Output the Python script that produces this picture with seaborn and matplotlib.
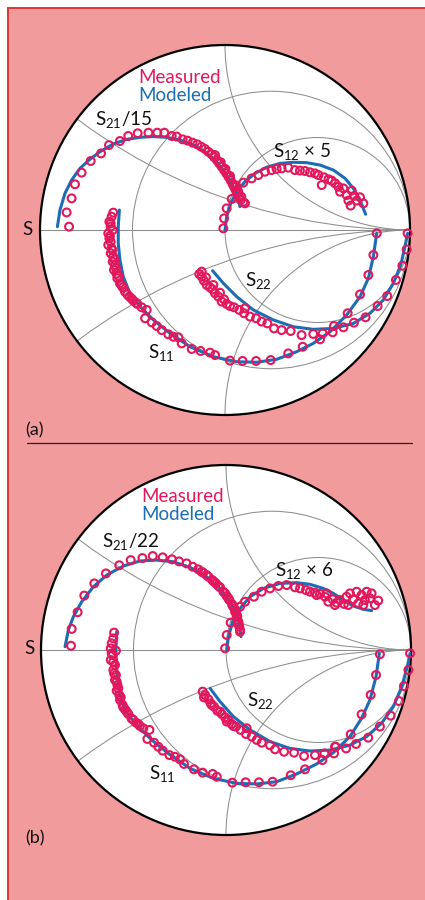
import matplotlib
matplotlib.use('Agg')
import matplotlib.pyplot as plt
import seaborn as sns
from matplotlib.patches import Circle, Rectangle
from matplotlib.lines import Line2D

sns.set_theme(style='white')
plt.rcParams['font.family'] = ['Lato', 'DejaVu Sans']
plt.rcParams['mathtext.fontset'] = 'custom'
plt.rcParams['mathtext.rm'] = 'Lato'
plt.rcParams['mathtext.it'] = 'Lato:italic'
plt.rcParams['mathtext.bf'] = 'Lato:bold'

# ---------------- data (reflection coefficient, re/im) ----------------
# Panel (a)
A_S21_MEAS = [(-0.843, 0.018), (-0.856, 0.095), (-0.829, 0.171), (-0.811, 0.247), (-0.775, 0.310),
              (-0.726, 0.373), (-0.670, 0.414), (-0.627, 0.459), (-0.568, 0.481), (-0.523, 0.508),
              (-0.472, 0.523), (-0.414, 0.526), (-0.366, 0.526), (-0.328, 0.526), (-0.288, 0.508),
              (-0.261, 0.505), (-0.229, 0.490), (-0.202, 0.483), (-0.175, 0.472), (-0.150, 0.463),
              (-0.128, 0.450), (-0.108, 0.438), (-0.090, 0.423), (-0.072, 0.409), (-0.058, 0.393),
              (-0.043, 0.377), (-0.031, 0.360), (-0.018, 0.342), (-0.005, 0.324), (0.007, 0.306),
              (0.020, 0.286), (0.031, 0.268), (0.041, 0.249), (0.050, 0.231), (0.059, 0.213),
              (0.067, 0.195), (0.076, 0.177), (0.085, 0.162), (0.099, 0.150), (-0.054, 0.405),
              (-0.023, 0.366), (0.002, 0.330), (0.027, 0.292), (0.054, 0.243), (0.072, 0.207),
              (0.088, 0.180), (0.108, 0.144)]
A_S21_MODEL = [(-0.906, 0.018), (-0.892, 0.108), (-0.865, 0.198), (-0.829, 0.270), (-0.784, 0.333),
               (-0.730, 0.382), (-0.676, 0.423), (-0.604, 0.465), (-0.532, 0.490), (-0.459, 0.501),
               (-0.387, 0.505), (-0.315, 0.501), (-0.243, 0.486), (-0.171, 0.459), (-0.108, 0.423),
               (-0.054, 0.378), (-0.009, 0.324), (0.027, 0.270), (0.054, 0.216), (0.072, 0.171),
               (0.081, 0.126)]
A_S12_MEAS = [(-0.009, 0.009), (-0.005, 0.063), (0.009, 0.117), (0.036, 0.168), (0.099, 0.256),
              (0.144, 0.279), (0.180, 0.297), (0.216, 0.315), (0.252, 0.324), (0.279, 0.330),
              (0.306, 0.333), (0.342, 0.337), (0.378, 0.324), (0.405, 0.321), (0.432, 0.319),
              (0.459, 0.312), (0.486, 0.306), (0.505, 0.297), (0.523, 0.243), (0.535, 0.285),
              (0.559, 0.274), (0.577, 0.267), (0.595, 0.252), (0.613, 0.234), (0.622, 0.207),
              (0.640, 0.225), (0.658, 0.189), (0.667, 0.159), (0.685, 0.213), (0.697, 0.184),
              (0.712, 0.159), (0.730, 0.177), (0.748, 0.144), (0.679, 0.132)]
A_S12_MODEL = [(0.000, 0.000), (0.009, 0.072), (0.031, 0.144), (0.063, 0.207), (0.108, 0.261),
               (0.162, 0.306), (0.225, 0.339), (0.297, 0.360), (0.369, 0.366), (0.441, 0.364),
               (0.514, 0.351), (0.586, 0.324), (0.649, 0.279), (0.694, 0.225), (0.730, 0.162),
               (0.760, 0.085)]
A_S11_MEAS = [(0.820, -0.018), (0.802, -0.135), (0.775, -0.243), (0.730, -0.348), (0.663, -0.450),
              (0.589, -0.519), (0.514, -0.591), (0.420, -0.631), (0.342, -0.667), (0.247, -0.703),
              (0.168, -0.708), (0.095, -0.708), (0.027, -0.706), (-0.054, -0.676), (-0.081, -0.663),
              (-0.132, -0.654), (-0.180, -0.643), (-0.234, -0.613), (-0.252, -0.580), (-0.279, -0.577),
              (-0.306, -0.564), (-0.342, -0.541), (-0.369, -0.519), (-0.396, -0.499), (-0.432, -0.477),
              (-0.423, -0.432), (-0.450, -0.418), (-0.474, -0.400), (-0.495, -0.382), (-0.517, -0.360),
              (-0.541, -0.333), (-0.553, -0.310), (-0.568, -0.288), (-0.582, -0.261), (-0.586, -0.236),
              (-0.600, -0.216), (-0.595, -0.189), (-0.607, -0.171), (-0.604, -0.144), (-0.618, -0.126),
              (-0.613, -0.099), (-0.631, -0.081), (-0.618, -0.063), (-0.625, -0.045), (-0.631, -0.018),
              (-0.607, 0.000), (-0.618, 0.018), (-0.625, 0.045), (-0.613, 0.072), (-0.604, 0.094),
              (-0.622, -0.032), (-0.609, -0.108), (-0.598, -0.159), (-0.589, -0.207), (-0.575, -0.249),
              (-0.559, -0.299), (-0.528, -0.348), (-0.505, -0.371), (-0.481, -0.393), (-0.618, 0.036)]
A_S11_MODEL = [(-0.571, 0.108), (-0.577, 0.018), (-0.577, -0.072), (-0.568, -0.162), (-0.550, -0.252),
               (-0.514, -0.342), (-0.459, -0.414), (-0.387, -0.486), (-0.297, -0.559), (-0.189, -0.631),
               (-0.063, -0.685), (0.063, -0.712), (0.171, -0.715), (0.279, -0.699), (0.387, -0.658),
               (0.477, -0.613), (0.568, -0.550), (0.658, -0.459), (0.730, -0.360), (0.775, -0.261),
               (0.802, -0.144), (0.820, -0.018)]
A_S22_MEAS = [(0.987, -0.018), (0.982, -0.105), (0.959, -0.193), (0.924, -0.270), (0.877, -0.357),
              (0.825, -0.411), (0.760, -0.472), (0.697, -0.501), (0.640, -0.526), (0.582, -0.553),
              (0.528, -0.559), (0.477, -0.562), (0.414, -0.568), (0.355, -0.546), (0.306, -0.541),
              (0.265, -0.532), (0.229, -0.505), (0.198, -0.495), (0.168, -0.477), (0.135, -0.468),
              (0.103, -0.450), (0.108, -0.423), (0.077, -0.432), (0.049, -0.418), (0.027, -0.411),
              (0.009, -0.400), (-0.005, -0.375), (-0.018, -0.387), (-0.036, -0.360), (-0.054, -0.342),
              (-0.067, -0.321), (-0.081, -0.310), (-0.099, -0.297), (-0.114, -0.274), (-0.126, -0.252),
              (-0.139, -0.238), (-0.126, -0.225), (-0.103, -0.256), (-0.063, -0.297), (-0.027, -0.339)]
A_S22_MODEL = [(-0.067, -0.220), (-0.009, -0.288), (0.063, -0.360), (0.153, -0.432), (0.261, -0.486),
               (0.369, -0.523), (0.477, -0.537), (0.586, -0.532), (0.694, -0.505), (0.784, -0.450),
               (0.856, -0.378), (0.910, -0.288), (0.950, -0.189), (0.973, -0.090), (0.987, -0.018)]

# Panel (b)
B_S21_MEAS = [(-0.838, 0.023), (-0.834, 0.114), (-0.802, 0.204), (-0.766, 0.294), (-0.712, 0.360),
              (-0.649, 0.414), (-0.577, 0.458), (-0.515, 0.486), (-0.452, 0.497), (-0.396, 0.508),
              (-0.342, 0.501), (-0.292, 0.490), (-0.254, 0.479), (-0.213, 0.468), (-0.180, 0.450),
              (-0.150, 0.436), (-0.123, 0.418), (-0.095, 0.396), (-0.074, 0.378), (-0.054, 0.360),
              (-0.032, 0.339), (-0.014, 0.315), (0.004, 0.292), (0.018, 0.270), (0.032, 0.249),
              (0.045, 0.225), (0.054, 0.202), (0.061, 0.180), (0.067, 0.153), (0.072, 0.126),
              (0.076, 0.099), (-0.132, 0.423), (-0.105, 0.405), (-0.065, 0.369), (-0.041, 0.346),
              (-0.005, 0.306), (0.013, 0.279), (0.036, 0.238), (0.058, 0.189), (0.068, 0.141),
              (0.076, 0.108)]
B_S21_MODEL = [(-0.870, 0.018), (-0.852, 0.108), (-0.825, 0.180), (-0.780, 0.261), (-0.717, 0.342),
               (-0.645, 0.405), (-0.555, 0.454), (-0.465, 0.481), (-0.375, 0.486), (-0.285, 0.477),
               (-0.195, 0.447), (-0.105, 0.396), (-0.032, 0.333), (0.022, 0.261), (0.058, 0.198),
               (0.076, 0.126), (0.081, 0.072)]
B_S12_MEAS = [(-0.005, 0.009), (0.004, 0.081), (0.025, 0.148), (0.049, 0.207), (0.076, 0.234),
              (0.103, 0.261), (0.151, 0.288), (0.193, 0.315), (0.238, 0.333), (0.283, 0.346),
              (0.328, 0.351), (0.373, 0.339), (0.400, 0.333), (0.432, 0.324), (0.454, 0.315),
              (0.481, 0.310), (0.508, 0.303), (0.535, 0.288), (0.553, 0.261), (0.577, 0.274),
              (0.598, 0.256), (0.616, 0.270), (0.638, 0.249), (0.652, 0.288), (0.670, 0.306),
              (0.688, 0.274), (0.706, 0.315), (0.715, 0.252), (0.733, 0.297), (0.751, 0.270),
              (0.760, 0.315), (0.778, 0.279), (0.787, 0.306), (0.823, 0.267), (0.805, 0.243),
              (0.589, 0.243), (0.490, 0.297), (0.544, 0.306), (0.661, 0.243), (0.742, 0.243)]
B_S12_MODEL = [(0.004, 0.000), (0.013, 0.072), (0.036, 0.153), (0.076, 0.225), (0.130, 0.288),
               (0.202, 0.333), (0.292, 0.360), (0.382, 0.364), (0.454, 0.355), (0.526, 0.333),
               (0.580, 0.306), (0.634, 0.270), (0.688, 0.238), (0.742, 0.220), (0.787, 0.213)]
B_S11_MEAS = [(0.832, -0.023), (0.811, -0.135), (0.782, -0.243), (0.733, -0.348), (0.674, -0.456),
              (0.593, -0.523), (0.521, -0.595), (0.427, -0.645), (0.350, -0.677), (0.252, -0.712),
              (0.178, -0.715), (0.106, -0.715), (0.034, -0.717), (-0.050, -0.685), (-0.072, -0.670),
              (-0.126, -0.663), (-0.173, -0.645), (-0.227, -0.616), (-0.249, -0.591), (-0.276, -0.577),
              (-0.306, -0.568), (-0.342, -0.544), (-0.366, -0.523), (-0.389, -0.501), (-0.425, -0.481),
              (-0.414, -0.432), (-0.447, -0.423), (-0.465, -0.411), (-0.486, -0.393), (-0.510, -0.371),
              (-0.528, -0.346), (-0.546, -0.321), (-0.559, -0.297), (-0.573, -0.270), (-0.577, -0.243),
              (-0.591, -0.220), (-0.587, -0.189), (-0.600, -0.162), (-0.595, -0.135), (-0.609, -0.108),
              (-0.600, -0.081), (-0.623, -0.054), (-0.613, -0.027), (-0.595, -0.004), (-0.623, 0.009),
              (-0.618, 0.036), (-0.609, 0.063), (-0.605, 0.094), (-0.618, -0.018), (-0.609, -0.063),
              (-0.605, -0.126), (-0.591, -0.171), (-0.582, -0.207), (-0.569, -0.256), (-0.555, -0.310),
              (-0.537, -0.333), (-0.501, -0.378), (-0.474, -0.400)]
B_S11_MODEL = [(-0.591, 0.099), (-0.595, 0.000), (-0.591, -0.108), (-0.582, -0.198), (-0.564, -0.279),
               (-0.528, -0.351), (-0.474, -0.414), (-0.402, -0.486), (-0.312, -0.559), (-0.195, -0.640),
               (-0.068, -0.694), (0.058, -0.721), (0.166, -0.724), (0.274, -0.712), (0.382, -0.670),
               (0.490, -0.616), (0.580, -0.555), (0.670, -0.468), (0.733, -0.369), (0.778, -0.270),
               (0.811, -0.144), (0.829, -0.018)]
B_S22_MEAS = [(0.995, -0.018), (0.986, -0.108), (0.962, -0.195), (0.935, -0.276), (0.890, -0.355),
              (0.832, -0.414), (0.769, -0.474), (0.703, -0.508), (0.649, -0.532), (0.589, -0.523),
              (0.584, -0.559), (0.532, -0.559), (0.481, -0.568), (0.422, -0.573), (0.368, -0.555),
              (0.314, -0.550), (0.265, -0.537), (0.238, -0.515), (0.193, -0.501), (0.166, -0.486),
              (0.139, -0.468), (0.108, -0.454), (0.112, -0.423), (0.079, -0.432), (0.054, -0.414),
              (0.031, -0.400), (0.013, -0.378), (-0.005, -0.364), (-0.023, -0.346), (-0.047, -0.328),
              (-0.065, -0.306), (-0.083, -0.288), (-0.095, -0.267), (-0.113, -0.243), (-0.126, -0.225),
              (-0.119, -0.256), (-0.077, -0.297), (-0.032, -0.333), (0.004, -0.387), (0.040, -0.411)]
B_S22_MODEL = [(-0.086, -0.207), (-0.032, -0.279), (0.040, -0.360), (0.130, -0.432), (0.238, -0.495),
               (0.346, -0.532), (0.454, -0.546), (0.562, -0.541), (0.670, -0.514), (0.760, -0.468),
               (0.841, -0.396), (0.905, -0.306), (0.950, -0.198), (0.980, -0.090), (0.995, -0.018)]

# grid of the Smith chart
R_CIRCLES = [1/3, 1.0]
X_ARCS = [1/3, 1.0, -1/3, -1.0]

LABELS_A = {'s21': r'S$_{\mathrm{21}}$/15', 's12': r'S$_{\mathrm{12}}$ × 5'}
LABELS_B = {'s21': r'S$_{\mathrm{21}}$/22', 's12': r'S$_{\mathrm{12}}$ × 6'}

RED = '#E3175B'
BLUE = '#1B6DB5'
PINK = '#F19B9D'
BORDER = '#E0353B'
GRID = '#8E8E8E'

W, H = 425, 900
fig = plt.figure(figsize=(W / 100, H / 100), dpi=100)
fig.patch.set_facecolor('white')
fig.add_artist(Rectangle((7.5 / W, -0.01), 1.0, 1.01 - 7.5 / H, transform=fig.transFigure,
                         facecolor=PINK, edgecolor=BORDER, lw=1.4, zorder=0))
fig.add_artist(Line2D([27 / W, 412 / W], [1 - 443 / H, 1 - 443 / H], color='#222222', lw=0.9))

RPX = 185.0
HALF = 1.1


def make_axes(cx, cy):
    side = 2 * HALF * RPX
    ax = fig.add_axes([(cx - side / 2) / W, (H - cy - side / 2) / H, side / W, side / H])
    ax.set_xlim(-HALF, HALF)
    ax.set_ylim(-HALF, HALF)
    ax.set_aspect('equal')
    ax.axis('off')
    ax.patch.set_alpha(0)
    return ax


def smith(ax):
    disk = Circle((0, 0), 1, facecolor='white', edgecolor='none', zorder=0)
    ax.add_patch(disk)
    for r in R_CIRCLES:
        c = Circle((r / (1 + r), 0), 1 / (1 + r), fill=False, ec=GRID, lw=0.75, zorder=1)
        ax.add_patch(c)
        c.set_clip_path(disk)
    for x in X_ARCS:
        c = Circle((1, 1 / x), abs(1 / x), fill=False, ec=GRID, lw=0.75, zorder=1)
        ax.add_patch(c)
        c.set_clip_path(disk)
    ax.plot([-1, 1], [0, 0], color=GRID, lw=0.75, zorder=1)
    ax.add_patch(Circle((0, 0), 1, fill=False, ec='black', lw=1.6, zorder=2))


def traces(ax, models, meas):
    for m in models:
        sns.lineplot(x=[p[0] for p in m], y=[p[1] for p in m], sort=False, estimator=None,
                     color=BLUE, lw=2.2, ax=ax, zorder=3)
    for m in meas:
        sns.scatterplot(x=[p[0] for p in m], y=[p[1] for p in m], ax=ax, s=32, marker='o',
                        facecolor='none', edgecolor=RED, linewidth=1.5, zorder=4, legend=False)


def labels(ax, lab, pos):
    fs = 13.5
    ax.text(pos['meas'][0], pos['meas'][1], 'Measured', color=RED, fontsize=fs, va='baseline', zorder=5)
    ax.text(pos['mod'][0], pos['mod'][1], 'Modeled', color=BLUE, fontsize=fs, va='baseline', zorder=5)
    ax.text(pos['s21'][0], pos['s21'][1], lab['s21'], color='#111111', fontsize=fs, va='baseline', zorder=5)
    ax.text(pos['s12'][0], pos['s12'][1], lab['s12'], color='#111111', fontsize=fs, va='baseline', zorder=5)
    ax.text(pos['s22'][0], pos['s22'][1], r'S$_{\mathrm{22}}$', color='#111111', fontsize=fs, va='baseline', zorder=5)
    ax.text(pos['s11'][0], pos['s11'][1], r'S$_{\mathrm{11}}$', color='#111111', fontsize=fs, va='baseline', zorder=5)
    ax.text(pos['s'][0], pos['s'][1], 'S', color='#111111', fontsize=fs, va='baseline', zorder=5, clip_on=False)


POS_A = {'meas': (-0.470, 0.793), 'mod': (-0.470, 0.699), 's21': (-0.703, 0.568), 's12': (0.259, 0.396),
         's22': (0.108, -0.301), 's11': (-0.418, -0.694), 's': (-1.096, -0.027)}
POS_B = {'meas': (-0.456, 0.798), 'mod': (-0.456, 0.703), 's21': (-0.672, 0.559), 's12': (0.265, 0.400),
         's22': (0.112, -0.303), 's11': (-0.416, -0.699), 's': (-1.090, -0.023)}

axa = make_axes(225, 230)
smith(axa)
traces(axa, [A_S21_MODEL, A_S12_MODEL, A_S11_MODEL, A_S22_MODEL],
       [A_S21_MEAS, A_S12_MEAS, A_S11_MEAS, A_S22_MEAS])
labels(axa, LABELS_A, POS_A)

axb = make_axes(226, 650)
smith(axb)
traces(axb, [B_S21_MODEL, B_S12_MODEL, B_S11_MODEL, B_S22_MODEL],
       [B_S21_MEAS, B_S12_MEAS, B_S11_MEAS, B_S22_MEAS])
labels(axb, LABELS_B, POS_B)

fig.text(25 / W, 1 - 435 / H, '(a)', fontsize=13, color='#111111', va='baseline')
fig.text(25 / W, 1 - 843 / H, '(b)', fontsize=13, color='#111111', va='baseline')

fig.savefig('out.png', dpi=100)
